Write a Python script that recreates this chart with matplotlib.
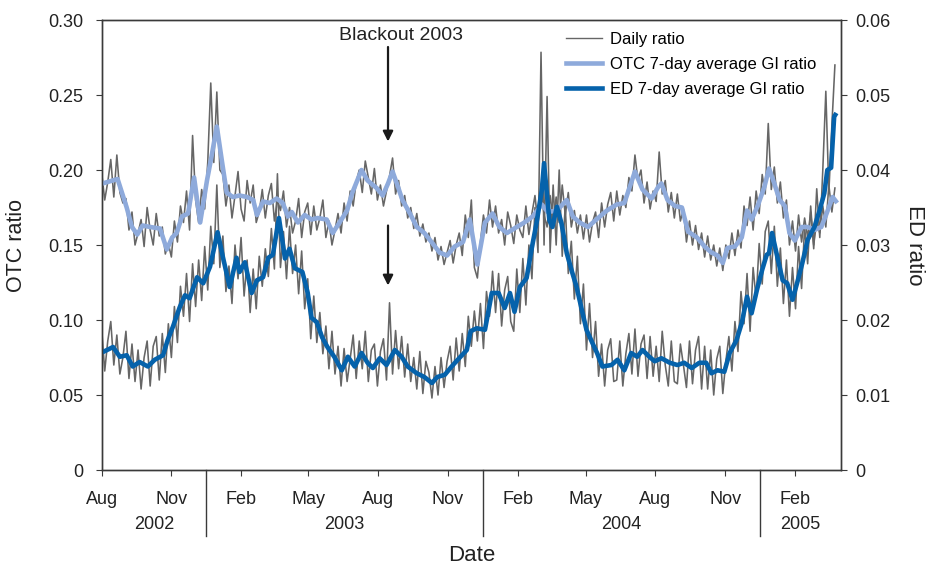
import numpy as np
import matplotlib
matplotlib.use("Agg")
import matplotlib.pyplot as plt
import matplotlib.dates as mdates
import matplotlib.transforms as mtransforms
from matplotlib.lines import Line2D
from matplotlib.ticker import FuncFormatter

plt.rcParams['font.family'] = ['Liberation Sans', 'DejaVu Sans']

START = np.datetime64('2002-08-01')
END = np.datetime64('2005-04-03')
BLACKOUT = np.datetime64('2003-08-14')

# 7-day averages: day offsets from START and values
otc_avg_day = [1, 21, 33, 40, 47, 54, 64, 77, 86, 93,
               99, 106, 114, 122, 130, 139, 145, 152, 159, 165,
               173, 182, 192, 200, 205, 213, 222, 231, 239, 246,
               251, 259, 268, 277, 285, 297, 305, 314, 324, 331,
               343, 351, 363, 371, 378, 384, 391, 397, 407, 416,
               426, 437, 446, 456, 466, 477, 486, 496, 506, 516,
               525, 535, 548, 558, 569, 581, 589, 601, 614, 622,
               631, 642, 653, 667, 680, 690, 704, 714, 726, 735,
               739, 747, 757, 766, 774, 786, 796, 805, 813, 820,
               826, 836, 845, 852, 858, 866, 875, 881, 888, 895,
               902, 908, 915, 924, 932, 941, 950, 957, 965, 971]
otc_avg = [0.191, 0.194, 0.175, 0.162, 0.157, 0.163, 0.162, 0.161, 0.147, 0.155,
           0.158, 0.169, 0.171, 0.195, 0.165, 0.193, 0.209, 0.229, 0.205, 0.185,
           0.182, 0.183, 0.182, 0.180, 0.170, 0.179, 0.178, 0.181, 0.178, 0.169,
           0.172, 0.165, 0.170, 0.167, 0.168, 0.167, 0.158, 0.165, 0.173, 0.185,
           0.200, 0.193, 0.188, 0.183, 0.191, 0.199, 0.189, 0.180, 0.171, 0.162,
           0.158, 0.151, 0.145, 0.143, 0.149, 0.152, 0.167, 0.137, 0.165, 0.171,
           0.162, 0.158, 0.162, 0.165, 0.169, 0.177, 0.172, 0.173, 0.180, 0.169,
           0.165, 0.162, 0.167, 0.173, 0.177, 0.178, 0.199, 0.187, 0.181, 0.189,
           0.191, 0.180, 0.176, 0.175, 0.159, 0.155, 0.149, 0.145, 0.143, 0.138,
           0.148, 0.149, 0.155, 0.173, 0.167, 0.176, 0.189, 0.201, 0.191, 0.180,
           0.176, 0.158, 0.153, 0.162, 0.162, 0.160, 0.162, 0.171, 0.182, 0.178]

ed_avg_day = [1, 15, 24, 33, 41, 50, 61, 70, 81, 87,
              94, 103, 110, 116, 126, 134, 143, 153, 160, 169,
              178, 182, 189, 198, 205, 213, 220, 226, 234, 242,
              248, 255, 265, 272, 277, 284, 291, 298, 307, 317,
              325, 334, 343, 351, 358, 367, 376, 387, 396, 404,
              416, 426, 436, 443, 453, 462, 470, 482, 487, 495,
              506, 515, 524, 532, 539, 545, 552, 561, 568, 574,
              581, 584, 591, 595, 601, 607, 614, 621, 627, 634,
              640, 648, 654, 661, 673, 681, 690, 699, 707, 714,
              723, 730, 739, 750, 760, 769, 779, 789, 798, 805,
              813, 822, 829, 838, 845, 852, 858, 865, 872, 878,
              881, 885, 892, 899, 905, 912, 918, 925, 932, 941,
              948, 954, 958, 963, 967, 970]
ed_avg = [0.0157, 0.0164, 0.0151, 0.0153, 0.0138, 0.0144, 0.0138, 0.0147, 0.0153, 0.0173,
          0.0191, 0.0217, 0.0233, 0.0229, 0.0257, 0.0249, 0.0271, 0.0317, 0.0284, 0.0244,
          0.0283, 0.0264, 0.0277, 0.0236, 0.0253, 0.0257, 0.0283, 0.0287, 0.0336, 0.0282,
          0.0295, 0.0269, 0.0264, 0.0236, 0.0203, 0.0197, 0.0177, 0.0164, 0.0151, 0.0133,
          0.0151, 0.0138, 0.0156, 0.0143, 0.0136, 0.0149, 0.0140, 0.0160, 0.0151, 0.0138,
          0.0129, 0.0124, 0.0116, 0.0124, 0.0127, 0.0138, 0.0147, 0.0160, 0.0185, 0.0189,
          0.0187, 0.0236, 0.0236, 0.0216, 0.0236, 0.0211, 0.0244, 0.0256, 0.0297, 0.0329,
          0.0373, 0.0409, 0.0333, 0.0324, 0.0351, 0.0329, 0.0289, 0.0264, 0.0244, 0.0213,
          0.0187, 0.0169, 0.0156, 0.0138, 0.0140, 0.0147, 0.0133, 0.0156, 0.0151, 0.0160,
          0.0151, 0.0145, 0.0149, 0.0143, 0.0140, 0.0143, 0.0136, 0.0143, 0.0143, 0.0129,
          0.0133, 0.0131, 0.0156, 0.0173, 0.0196, 0.0231, 0.0209, 0.0240, 0.0267, 0.0287,
          0.0289, 0.0316, 0.0284, 0.0253, 0.0249, 0.0227, 0.0249, 0.0276, 0.0307, 0.0324,
          0.0347, 0.0369, 0.0400, 0.0403, 0.0471, 0.0476]

# daily ratios, read every 4th day from START
daily_step_days = 4
otc_daily = [0.198, 0.180, 0.192, 0.207, 0.182, 0.210, 0.185, 0.178, 0.181, 0.160,
             0.172, 0.150, 0.158, 0.167, 0.149, 0.175, 0.160, 0.150, 0.171, 0.156,
             0.162, 0.144, 0.151, 0.142, 0.166, 0.152, 0.176, 0.165, 0.186, 0.160,
             0.223, 0.180, 0.165, 0.187, 0.174, 0.205, 0.258, 0.205, 0.252, 0.200,
             0.197, 0.176, 0.190, 0.168, 0.183, 0.199, 0.174, 0.166, 0.193, 0.178,
             0.190, 0.165, 0.172, 0.187, 0.168, 0.183, 0.191, 0.166, 0.180, 0.173,
             0.186, 0.162, 0.175, 0.158, 0.166, 0.181, 0.155, 0.172, 0.178, 0.157,
             0.176, 0.160, 0.168, 0.180, 0.155, 0.166, 0.150, 0.160, 0.171, 0.158,
             0.178, 0.166, 0.186, 0.176, 0.192, 0.200, 0.185, 0.206, 0.195, 0.184,
             0.201, 0.180, 0.190, 0.176, 0.186, 0.196, 0.208, 0.184, 0.193, 0.176,
             0.183, 0.168, 0.175, 0.161, 0.171, 0.156, 0.164, 0.152, 0.158, 0.146,
             0.155, 0.140, 0.149, 0.137, 0.145, 0.153, 0.138, 0.150, 0.158, 0.143,
             0.170, 0.155, 0.180, 0.135, 0.128, 0.152, 0.170, 0.158, 0.180, 0.162,
             0.176, 0.158, 0.167, 0.150, 0.172, 0.163, 0.151, 0.170, 0.160, 0.155,
             0.176, 0.157, 0.171, 0.183, 0.164, 0.190, 0.170, 0.162, 0.183, 0.166,
             0.182, 0.165, 0.190, 0.170, 0.185, 0.162, 0.173, 0.158, 0.170, 0.154,
             0.170, 0.152, 0.165, 0.172, 0.155, 0.178, 0.162, 0.177, 0.185, 0.166,
             0.186, 0.170, 0.183, 0.175, 0.195, 0.186, 0.210, 0.193, 0.200, 0.178,
             0.192, 0.174, 0.186, 0.179, 0.212, 0.184, 0.193, 0.172, 0.185, 0.168,
             0.184, 0.166, 0.174, 0.152, 0.166, 0.150, 0.163, 0.147, 0.158, 0.142,
             0.156, 0.140, 0.150, 0.136, 0.148, 0.133, 0.150, 0.141, 0.158, 0.143,
             0.160, 0.148, 0.176, 0.163, 0.182, 0.160, 0.186, 0.171, 0.197, 0.184,
             0.231, 0.187, 0.202, 0.178, 0.192, 0.168, 0.180, 0.150, 0.166, 0.146,
             0.170, 0.152, 0.168, 0.155, 0.172, 0.150, 0.166, 0.158, 0.176, 0.162,
             0.190, 0.172, 0.188]
ed_daily = [0.0188, 0.0132, 0.0172, 0.0198, 0.0140, 0.0180, 0.0128, 0.0150, 0.0185, 0.0122,
            0.0168, 0.0118, 0.0160, 0.0108, 0.0150, 0.0172, 0.0112, 0.0165, 0.0178, 0.0120,
            0.0182, 0.0130, 0.0195, 0.0150, 0.0218, 0.0170, 0.0245, 0.0205, 0.0262, 0.0198,
            0.0275, 0.0218, 0.0280, 0.0226, 0.0298, 0.0240, 0.0325, 0.0275, 0.0380, 0.0270,
            0.0312, 0.0238, 0.0272, 0.0222, 0.0300, 0.0255, 0.0310, 0.0232, 0.0280, 0.0210,
            0.0268, 0.0215, 0.0285, 0.0245, 0.0295, 0.0258, 0.0322, 0.0268, 0.0395, 0.0270,
            0.0318, 0.0255, 0.0325, 0.0262, 0.0300, 0.0235, 0.0292, 0.0215, 0.0255, 0.0175,
            0.0232, 0.0170, 0.0210, 0.0155, 0.0192, 0.0135, 0.0185, 0.0128, 0.0165, 0.0112,
            0.0162, 0.0118, 0.0148, 0.0180, 0.0122, 0.0172, 0.0135, 0.0185, 0.0118, 0.0160,
            0.0168, 0.0112, 0.0158, 0.0175, 0.0120, 0.0223, 0.0128, 0.0186, 0.0135, 0.0178,
            0.0124, 0.0168, 0.0118, 0.0150, 0.0108, 0.0158, 0.0102, 0.0145, 0.0130, 0.0096,
            0.0138, 0.0100, 0.0150, 0.0110, 0.0145, 0.0165, 0.0120, 0.0176, 0.0132, 0.0182,
            0.0138, 0.0205, 0.0165, 0.0212, 0.0172, 0.0222, 0.0162, 0.0238, 0.0205, 0.0265,
            0.0210, 0.0262, 0.0192, 0.0240, 0.0258, 0.0198, 0.0185, 0.0268, 0.0210, 0.0282,
            0.0220, 0.0300, 0.0255, 0.0350, 0.0290, 0.0557, 0.0300, 0.0498, 0.0290, 0.0380,
            0.0300, 0.0400, 0.0285, 0.0352, 0.0262, 0.0305, 0.0228, 0.0285, 0.0195, 0.0248,
            0.0160, 0.0222, 0.0150, 0.0198, 0.0125, 0.0168, 0.0112, 0.0160, 0.0175, 0.0118,
            0.0120, 0.0172, 0.0112, 0.0155, 0.0182, 0.0128, 0.0188, 0.0125, 0.0168, 0.0180,
            0.0122, 0.0178, 0.0125, 0.0165, 0.0118, 0.0185, 0.0140, 0.0112, 0.0172, 0.0118,
            0.0115, 0.0168, 0.0140, 0.0110, 0.0172, 0.0115, 0.0160, 0.0178, 0.0108, 0.0165,
            0.0108, 0.0160, 0.0100, 0.0148, 0.0165, 0.0102, 0.0145, 0.0178, 0.0132, 0.0198,
            0.0158, 0.0238, 0.0195, 0.0262, 0.0185, 0.0270, 0.0228, 0.0302, 0.0248, 0.0318,
            0.0332, 0.0262, 0.0325, 0.0245, 0.0296, 0.0222, 0.0280, 0.0205, 0.0270, 0.0215,
            0.0298, 0.0242, 0.0325, 0.0275, 0.0352, 0.0295, 0.0375, 0.0310, 0.0400, 0.0505,
            0.0370, 0.0460, 0.0540]

month_ticks = ['2002-08-01', '2002-11-01', '2003-02-01', '2003-05-01', '2003-08-01',
               '2003-11-01', '2004-02-01', '2004-05-01', '2004-08-01', '2004-11-01',
               '2005-02-01']
month_labels = ['Aug', 'Nov', 'Feb', 'May', 'Aug', 'Nov', 'Feb', 'May', 'Aug', 'Nov', 'Feb']
year_labels = ['2002', '2003', '2004', '2005']
otc_ticks = [0, 0.05, 0.10, 0.15, 0.20, 0.25, 0.30]
ed_ticks = [0, 0.01, 0.02, 0.03, 0.04, 0.05, 0.06]

GRAY = '#666666'
LIGHT = '#8eaadb'
DARK = '#0562ab'
AXC = '#3a3a3a'
TXT = '#222222'


def to_dates(days):
    return START + np.asarray(days).astype('timedelta64[D]')


fig = plt.figure(figsize=(9.27, 5.65), dpi=100)
ax = fig.add_axes([0.1097, 0.1681, 0.7975, 0.7965])
ax2 = ax.twinx()

daily_dates = START + (np.arange(len(otc_daily)) * daily_step_days).astype('timedelta64[D]')
ax.plot(daily_dates, otc_daily, color=GRAY, lw=1.15)
ax2.plot(daily_dates, ed_daily, color=GRAY, lw=1.15)
ax2.plot(to_dates(otc_avg_day), otc_avg, color=LIGHT, lw=3.3,
         solid_capstyle='butt', transform=ax.transData)
ax2.plot(to_dates(ed_avg_day), ed_avg, color=DARK, lw=3.3, solid_capstyle='butt')

ax.set_xlim(START, END)
ax.set_ylim(0, 0.30)
ax2.set_ylim(0, 0.06)

fmt = FuncFormatter(lambda v, p: '0' if abs(v) < 1e-9 else f'{v:.2f}')
ax.set_yticks(otc_ticks)
ax.yaxis.set_major_formatter(fmt)
ax2.set_yticks(ed_ticks)
ax2.yaxis.set_major_formatter(fmt)

tick_dates = np.array(month_ticks, dtype='datetime64[D]')
ax.set_xticks(mdates.date2num(tick_dates))
ax.set_xticklabels(month_labels)

for a in (ax, ax2):
    for s in a.spines.values():
        s.set_color(AXC)
        s.set_linewidth(1.0)
ax.tick_params(axis='x', direction='out', length=4, color=AXC, labelsize=13, pad=11)
ax.tick_params(axis='y', direction='out', length=4, color=AXC, labelsize=13, pad=9)
ax2.tick_params(axis='y', direction='out', length=4, color=AXC, labelsize=13, pad=6)

# year separators and year labels
trans = mtransforms.blended_transform_factory(ax.transData, ax.transAxes)
years_num = [int(y) for y in year_labels]
seps = []
for y in years_num[1:]:
    nov = mdates.date2num(np.datetime64(f'{y-1}-11-01'))
    feb = mdates.date2num(np.datetime64(f'{y}-02-01'))
    seps.append((nov + feb) / 2)
    ax.add_line(Line2D([(nov + feb) / 2] * 2, [0, -0.147], transform=trans,
                       color=AXC, lw=1.0, clip_on=False))
x0, x1 = ax.get_xlim()
bounds = [x0] + seps + [x1]
for i, lab in enumerate(year_labels):
    ax.text((bounds[i] + bounds[i + 1]) / 2, -0.122, lab, transform=trans,
            ha='center', va='center', fontsize=13, color=TXT)

ax.text(0.5, -0.19, 'Date', transform=ax.transAxes, ha='center', va='center',
        fontsize=16, color=TXT)
ax.text(-0.115, 0.5, 'OTC ratio', transform=ax.transAxes, ha='center', va='center',
        rotation=90, fontsize=15.5, color=TXT)
ax.text(1.100, 0.5, 'ED ratio', transform=ax.transAxes, ha='center', va='center',
        rotation=270, fontsize=16, color=TXT)

# blackout annotation
arrow = dict(arrowstyle='-|>', color='#1a1a1a', lw=1.6, mutation_scale=15,
             shrinkA=0, shrinkB=0)
ax.annotate('', xy=(BLACKOUT, 0.219), xytext=(BLACKOUT, 0.282), arrowprops=arrow)
ax.annotate('', xy=(BLACKOUT, 0.123), xytext=(BLACKOUT, 0.163), arrowprops=arrow)
ax.annotate('Blackout 2003', xy=(BLACKOUT, 0.29), xytext=(9, 0),
            textcoords='offset points', ha='center', va='center',
            fontsize=14, color=TXT)

handles = [Line2D([], [], color=GRAY, lw=1.0),
           Line2D([], [], color=LIGHT, lw=3.3),
           Line2D([], [], color=DARK, lw=3.3)]
labels = ['Daily ratio', 'OTC 7-day average GI ratio', 'ED 7-day average GI ratio']
ax2.legend(handles, labels, loc='upper left', bbox_to_anchor=(0.612, 1.0),
           frameon=False, fontsize=12, handlelength=2.2, handletextpad=0.45,
           labelspacing=0.6, borderaxespad=0.3)

for lab in ax.get_xticklabels() + ax.get_yticklabels() + ax2.get_yticklabels():
    lab.set_color(TXT)

fig.savefig('out.png', dpi=100)
